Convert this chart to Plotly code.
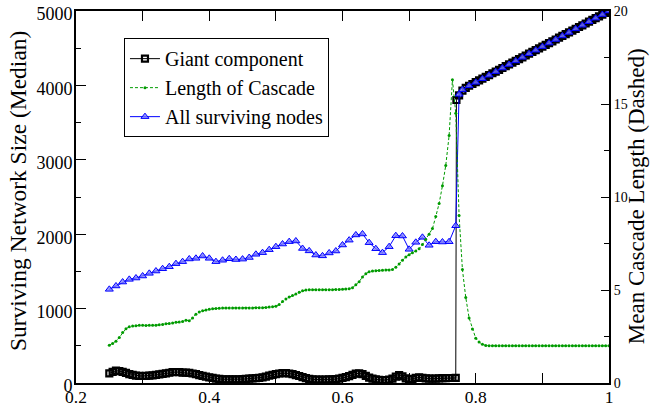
import numpy as np
import plotly.graph_objects as go

# ---------------- data ----------------
# Giant component (median), lower branch x = 0.25 .. 0.77 step 0.005
giant_lower = [
    130, 150, 165, 160, 150, 135, 120, 110, 100, 95,
    94, 95, 98, 102, 108, 115, 122, 130, 138, 145,
    148, 145, 140, 140, 135, 128, 118, 105, 95, 85,
    76, 68, 60, 55, 50, 49, 48, 48, 49, 50,
    52, 55, 58, 62, 65, 68, 75, 85, 98, 110,
    120, 128, 132, 132, 128, 118, 105, 94, 80, 65,
    55, 49, 47, 46, 46, 47, 48, 49, 52, 58,
    68, 78, 92, 110, 125, 130, 118, 95, 72, 58,
    48, 42, 40, 40, 45, 60, 85, 105, 90, 62,
    49, 55, 68, 76, 70, 62, 58, 58, 60, 63,
    65, 66, 67, 67, 68,
]
# Giant component, upper branch: first at 0.771, then 0.775 .. 1.0 step 0.005
giant_upper = [
    3804,
    3865, 3930, 3968, 3995,
    4019, 4043, 4067, 4091, 4115, 4139, 4163, 4186, 4210, 4234,
    4258, 4282, 4306, 4330, 4354, 4378, 4402, 4426, 4450, 4474,
    4497, 4521, 4545, 4569, 4593, 4617, 4641, 4665, 4689, 4713,
    4737, 4761, 4785, 4808, 4832, 4856, 4880, 4904, 4928, 4952,
    4976, 5000,
]

# Mean cascade length, x = 0.25 .. 1.0 step 0.005
cascade = [
    2.03, 2.12, 2.25, 2.45, 2.72, 2.92, 3.02, 3.06, 3.08, 3.10,
    3.10, 3.09, 3.11, 3.10, 3.11, 3.13, 3.15, 3.18, 3.20, 3.22,
    3.26, 3.28, 3.30, 3.38, 3.35, 3.50, 3.70, 3.82, 3.88, 3.92,
    3.96, 3.99, 4.01, 4.02, 4.03, 4.03, 4.03, 4.03, 4.03, 4.03,
    4.03, 4.03, 4.03, 4.03, 4.04, 4.04, 4.05, 4.06, 4.08, 4.10,
    4.13, 4.22, 4.38, 4.52, 4.62, 4.70, 4.78, 4.88, 4.96, 5.00,
    5.01, 5.02, 5.02, 5.02, 5.02, 5.02, 5.02, 5.02, 5.03, 5.03,
    5.04, 5.05, 5.07, 5.12, 5.28, 5.45, 5.70, 5.88, 5.98, 6.02,
    6.04, 6.05, 6.06, 6.07, 6.08, 6.10, 6.22, 6.40, 6.60, 6.78,
    6.90, 7.00, 7.10, 7.22, 7.45, 7.72, 8.00, 8.30, 8.95, 9.65,
    10.6, 11.7, 13.3, 16.3, 14.5, 9.0, 6.1, 4.6, 3.5, 2.9,
    2.4, 2.2, 2.08, 2.02, 2.0, 2.0, 2.0, 2.0, 2.0, 2.0,
    2.0, 2.0, 2.0, 2.0, 2.0, 2.0, 2.0, 2.0, 2.0, 2.0,
    2.0, 2.0, 2.0, 2.0, 2.0, 2.0, 2.0, 2.0, 2.0, 2.0,
    2.0, 2.0, 2.0, 2.0, 2.0, 2.0, 2.0, 2.0, 2.0, 2.0,
    2.0,
]

# All surviving nodes: lower x = 0.25 .. 0.77 step 0.01
surviving_lower = [
    1259, 1304, 1357, 1393, 1411, 1438, 1474, 1505, 1536, 1563,
    1604, 1631, 1667, 1676, 1707, 1676, 1631, 1650, 1670, 1660,
    1665, 1687, 1730, 1752, 1792, 1832, 1868, 1900, 1909, 1808,
    1776, 1720, 1709, 1748, 1774, 1855, 1920, 1990, 2003, 1886,
    1805, 1752, 1832, 1980, 1976, 1797, 1891, 1958, 1851, 1899,
    1895, 1899, 2114,
]
# upper: first at 0.775, then 0.78 .. 1.0 step 0.01
surviving_upper = [
    3880,
    3940, 3994, 4041, 4089, 4137, 4185, 4233, 4281, 4329, 4377,
    4425, 4473, 4521, 4569, 4617, 4665, 4712, 4760, 4808, 4856,
    4904, 4952, 5000,
]

x_ticks = [0.2, 0.4, 0.6, 0.8, 1.0]
x_ticktext = ["0.2", "0.4", "0.6", "0.8", "1"]
y_ticks = [0, 1000, 2000, 3000, 4000, 5000]
y2_ticks = [0, 5, 10, 15, 20]

# ---------------- x grids ----------------
x_giant = np.concatenate([
    np.round(0.25 + 0.005 * np.arange(len(giant_lower)), 4),
    [0.771],
    np.round(0.775 + 0.005 * np.arange(len(giant_upper) - 1), 4),
])
y_giant = giant_lower + giant_upper
x_casc = np.round(0.25 + 0.005 * np.arange(len(cascade)), 4)
x_surv = np.concatenate([
    np.round(0.25 + 0.01 * np.arange(len(surviving_lower)), 4),
    [0.775],
    np.round(0.78 + 0.01 * np.arange(len(surviving_upper) - 1), 4),
])
y_surv = surviving_lower + surviving_upper

FONT = "Liberation Serif, Times New Roman, DejaVu Serif, serif"

fig = go.Figure()
fig.add_trace(go.Scatter(
    x=x_giant, y=y_giant, name="Giant component", mode="lines+markers",
    line=dict(color="black", width=1),
    marker=dict(symbol="square-open", size=6, color="black", line=dict(width=2.2)),
))
fig.add_trace(go.Scatter(
    x=x_casc, y=cascade, name="Length of Cascade", mode="lines+markers",
    yaxis="y2",
    line=dict(color="rgb(0,155,0)", width=1, dash="3px,2px"),
    marker=dict(symbol="circle", size=3, color="rgb(0,155,0)"),
))
fig.add_trace(go.Scatter(
    x=x_surv, y=y_surv, name="All surviving nodes", mode="lines+markers",
    line=dict(color="rgb(0,0,255)", width=1),
    marker=dict(symbol="triangle-up", size=7, color="rgba(120,120,255,0.75)",
                line=dict(color="rgb(0,0,255)", width=1)),
))

fig.update_layout(
    width=651, height=407,
    margin=dict(l=76, r=42, t=11, b=24, autoexpand=False),
    plot_bgcolor="white", paper_bgcolor="white",
    font=dict(family=FONT, color="black", size=18),
    showlegend=True,
    legend=dict(
        x=0.09, y=0.927, xanchor="left", yanchor="top",
        bgcolor="white", bordercolor="black", borderwidth=1,
        font=dict(family=FONT, size=20, color="black"),
        tracegroupgap=0, itemwidth=30,
    ),
    xaxis=dict(
        range=[0.2, 1.0], tickvals=x_ticks, ticktext=x_ticktext,
        ticks="inside", ticklen=10, tickwidth=1, tickcolor="black",
        minor=dict(tickvals=[0.3, 0.5, 0.7, 0.9], ticks="inside", ticklen=5,
                   tickcolor="black", tickwidth=1),
        showline=True, linecolor="black", linewidth=2, mirror="allticks",
        showgrid=False, zeroline=False, automargin=False,
        ticklabelstandoff=-3,
        tickfont=dict(family=FONT, size=17.5),
    ),
    yaxis=dict(
        range=[0, 5000], tickvals=y_ticks,
        ticks="inside", ticklen=10, tickwidth=1, tickcolor="black",
        minor=dict(tickvals=[500, 1500, 2500, 3500, 4500], ticks="inside",
                   ticklen=5, tickcolor="black", tickwidth=1),
        showline=True, linecolor="black", linewidth=2,
        showgrid=False, zeroline=False, automargin=False,
        ticklabelstandoff=-2, ticklabelshift=3,
        tickfont=dict(family=FONT, size=18),
    ),
    yaxis2=dict(
        overlaying="y", side="right",
        range=[0, 20], tickvals=y2_ticks,
        ticks="inside", ticklen=8, tickwidth=1, tickcolor="black",
        minor=dict(tickvals=[2.5, 7.5, 12.5, 17.5], ticks="inside",
                   ticklen=5, tickcolor="black", tickwidth=1),
        showline=True, linecolor="black", linewidth=2,
        showgrid=False, zeroline=False, automargin=False,
        tickfont=dict(family=FONT, size=14),
    ),
    annotations=[
        dict(text="Surviving Network Size (Median)", textangle=-90,
             xref="paper", yref="paper", x=-0.1088, y=0.516,
             xanchor="center", yanchor="middle", showarrow=False,
             font=dict(family=FONT, size=23.5, color="black")),
        dict(text="Mean Cascade Length (Dashed)", textangle=-90,
             xref="paper", yref="paper", x=1.053, y=0.503,
             xanchor="center", yanchor="middle", showarrow=False,
             font=dict(family=FONT, size=23, color="black")),
    ],
)

fig.write_html("out.html")
